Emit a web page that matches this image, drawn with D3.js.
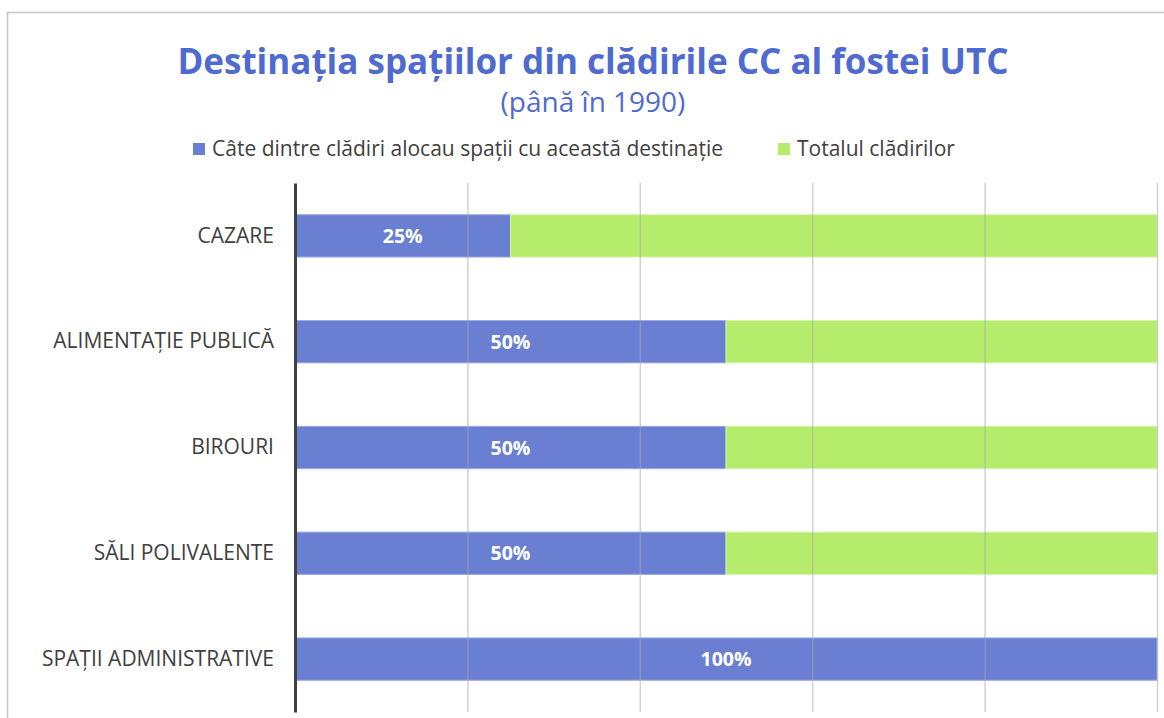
<!DOCTYPE html>
<html>
<head>
<meta charset="utf-8">
<script src="https://cdn.jsdelivr.net/npm/d3@7"></script>
<style>
  body { margin: 0; background: #fff; }
  svg { font-family: "Open Sans", Lato, sans-serif; }
</style>
</head>
<body>
<div id="container"></div>
<script>
const W = 1164;
const H = 718;

const categories = [
  "CAZARE",
  "ALIMENTAȚIE PUBLICĂ",
  "BIROURI",
  "SĂLI POLIVALENTE",
  "SPAȚII ADMINISTRATIVE"
];
// share of buildings with this destination (%)
const withDestination = [25, 50, 50, 50, 100];
// remainder up to the total of buildings (%)
const totalRest = [75, 50, 50, 50, 0];
const seriesNames = [
  "Câte dintre clădiri alocau spații cu această destinație",
  "Totalul clădirilor"
];
const colors = ["#6a7fd2", "#b5ec6c"];
const xTicks = [0, 20, 40, 60, 80, 100];

const plot = { left: 295, right: 1157, top: 183, bottom: 712 };

const svg = d3
  .select("#container")
  .append("svg")
  .attr("width", W)
  .attr("height", H);

// chart frame
svg
  .append("path")
  .attr("d", `M7.5,${H} V12.5 H${W}`)
  .attr("fill", "none")
  .attr("stroke", "#c6c6c6")
  .attr("stroke-width", 1.5);

// title
svg
  .append("text")
  .attr("x", 593)
  .attr("y", 74)
  .attr("text-anchor", "middle")
  .style("font-size", "35px")
  .style("font-weight", "bold")
  .style("fill", "#4f6bd0")
  .text("Destinația spațiilor din clădirile CC al fostei UTC");

svg
  .append("text")
  .attr("x", 593)
  .attr("y", 112)
  .attr("text-anchor", "middle")
  .style("font-size", "28px")
  .style("fill", "#4f6bd0")
  .text("(până în 1990)");

// legend
const legendItems = [
  { name: seriesNames[0], x: 193, color: colors[0] },
  { name: seriesNames[1], x: 778, color: colors[1] }
];
const legend = svg.append("g").attr("class", "legend");
legendItems.forEach(d => {
  legend
    .append("rect")
    .attr("x", d.x)
    .attr("y", 143)
    .attr("width", 12)
    .attr("height", 12)
    .style("fill", d.color);
  legend
    .append("text")
    .attr("x", d.x + 19)
    .attr("y", 156)
    .style("font-size", "21px")
    .style("fill", "#404040")
    .text(d.name);
});

const xScale = d3
  .scaleLinear()
  .domain([0, 100])
  .range([plot.left, plot.right]);

const yScale = d3
  .scaleBand()
  .domain(categories)
  .range([plot.top, plot.bottom])
  .paddingInner(0.6)
  .paddingOuter(0.3);

const rows = categories.map((c, i) => ({
  cat: c,
  a: withDestination[i],
  b: totalRest[i]
}));

// bars
const bars = svg.append("g").attr("class", "bars");
rows.forEach(d => {
  bars
    .append("rect")
    .attr("x", xScale(0))
    .attr("y", yScale(d.cat))
    .attr("width", xScale(d.a) - xScale(0))
    .attr("height", yScale.bandwidth())
    .style("fill", colors[0])
    .style("stroke", "#9aaae4")
    .style("stroke-width", 1);
  if (d.b > 0) {
    bars
      .append("rect")
      .attr("x", xScale(d.a))
      .attr("y", yScale(d.cat))
      .attr("width", xScale(d.a + d.b) - xScale(d.a))
      .attr("height", yScale.bandwidth())
      .style("fill", colors[1])
      .style("stroke", "#d4f5a8")
      .style("stroke-width", 1);
  }
});

// gridlines (drawn over the bars, faint)
const xAxis = d3
  .axisBottom(xScale)
  .tickValues(xTicks.slice(1))
  .tickSize(-(plot.bottom - plot.top))
  .tickFormat("");

svg
  .append("g")
  .attr("class", "grid")
  .attr("transform", `translate(0,${plot.bottom})`)
  .call(xAxis)
  .call(g => g.select(".domain").remove())
  .call(g =>
    g
      .selectAll(".tick line")
      .attr("stroke", "#a8a8a8")
      .attr("stroke-opacity", 0.5)
      .attr("stroke-width", 1.5)
  );

// category axis
const yAxis = d3.axisLeft(yScale).tickSize(0).tickPadding(21);

svg
  .append("g")
  .attr("class", "y axis")
  .attr("transform", `translate(${plot.left},0)`)
  .call(yAxis)
  .call(g =>
    g
      .select(".domain")
      .attr("stroke", "#404040")
      .attr("stroke-width", 3)
  )
  .call(g =>
    g
      .selectAll(".tick text")
      .style("font-family", "'Open Sans', Lato, sans-serif")
      .style("font-size", "21px")
      .style("fill", "#404040")
  );

// value labels
svg
  .append("g")
  .attr("class", "labels")
  .selectAll("text")
  .data(rows)
  .enter()
  .append("text")
  .attr("x", d => (xScale(0) + xScale(d.a)) / 2)
  .attr("y", d => yScale(d.cat) + yScale.bandwidth() / 2)
  .attr("dy", "0.36em")
  .attr("text-anchor", "middle")
  .style("font-size", "19.5px")
  .style("font-weight", "bold")
  .style("fill", "#ffffff")
  .text(d => d.a + "%");
</script>
</body>
</html>
